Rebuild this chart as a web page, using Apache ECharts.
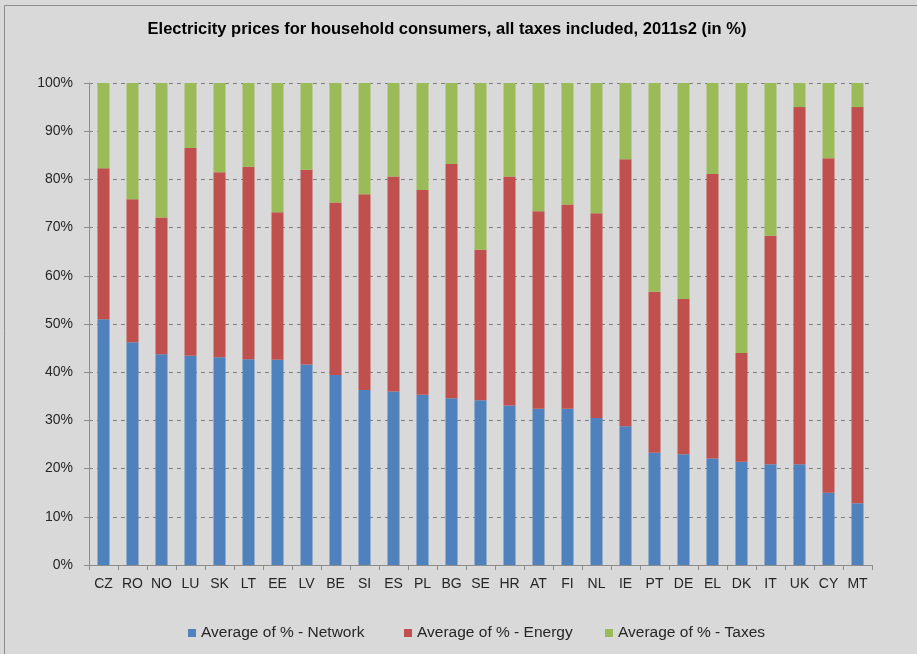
<!DOCTYPE html>
<html>
<head>
<meta charset="utf-8">
<title>Electricity prices for household consumers</title>
<script src="https://cdn.jsdelivr.net/npm/echarts@6/dist/echarts.min.js"></script>
<style>
  html, body { margin: 0; padding: 0; background: #d9d9d9; }
  #chart { width: 917px; height: 654px; }
</style>
</head>
<body>
<div id="chart"></div>
<script>
// Countries, ordered by network share
var countries = ['CZ', 'RO', 'NO', 'LU', 'SK', 'LT', 'EE', 'LV', 'BE', 'SI', 'ES', 'PL', 'BG', 'SE',
                 'HR', 'AT', 'FI', 'NL', 'IE', 'PT', 'DE', 'EL', 'DK', 'IT', 'UK', 'CY', 'MT'];

// Share of the household price (%), by component
var network = [51.0, 46.2, 43.7, 43.4, 43.1, 42.7, 42.6, 41.6, 39.4, 36.3, 36.0, 35.3, 34.6, 34.2,
               33.1, 32.4, 32.4, 30.5, 28.8, 23.3, 23.0, 22.1, 21.4, 20.9, 20.9, 15.0, 12.8];
var energy  = [31.3, 29.7, 28.4, 43.1, 38.4, 39.9, 30.6, 40.4, 35.8, 40.6, 44.6, 42.5, 48.6, 31.2,
               47.5, 41.0, 42.4, 42.5, 55.4, 33.4, 32.2, 59.0, 22.6, 47.4, 74.1, 69.4, 82.2];
var taxes   = [17.7, 24.1, 27.9, 13.5, 18.5, 17.4, 26.8, 18.0, 24.8, 23.1, 19.4, 22.2, 16.8, 34.6,
               19.4, 26.6, 25.2, 27.0, 15.8, 43.3, 44.8, 18.9, 56.0, 31.7, 5.0, 15.6, 5.0];

var seriesNames = ['Average of % - Network', 'Average of % - Energy', 'Average of % - Taxes'];
var colors = ['#4f81bd', '#c0504d', '#9bbb59'];

var textColor = '#262626';
var font = 'Liberation Sans, Arial, sans-serif';

var chart = echarts.init(document.getElementById('chart'), null, { renderer: 'canvas' });

function bar(name, data, color) {
  return {
    name: name,
    type: 'bar',
    stack: 'share',
    barWidth: 12,
    data: data,
    itemStyle: { color: color },
    emphasis: { disabled: true }
  };
}

// one legend entry per component, spaced along the bottom
var legendLeft = [183, 399, 600];
var legends = seriesNames.map(function (name, i) {
  return {
    data: [name],
    left: legendLeft[i],
    top: 620,
    itemWidth: 8,
    itemHeight: 8,
    icon: 'rect',
    textStyle: { fontFamily: font, fontSize: 15.5, color: textColor }
  };
});

chart.setOption({
  backgroundColor: '#d9d9d9',
  animation: false,
  color: colors,
  textStyle: { fontFamily: font },
  graphic: [{
    type: 'rect',
    shape: { x: 4.5, y: 5.5, width: 1000, height: 1000 },
    style: { fill: 'none', stroke: '#8c8c8c', lineWidth: 1 },
    silent: true
  }],
  title: {
    text: 'Electricity prices for household consumers, all taxes included, 2011s2 (in %)',
    left: 442,
    top: 16,
    textAlign: 'center',
    textStyle: { fontFamily: font, fontSize: 16.5, fontWeight: 'bold', color: '#000' }
  },
  legend: legends,
  grid: { left: 89, right: 45, top: 83, bottom: 89, containLabel: false },
  xAxis: {
    type: 'category',
    data: countries,
    axisLine: { lineStyle: { color: '#8c8c8c' } },
    axisTick: { show: true, length: 5, lineStyle: { color: '#8c8c8c' } },
    axisLabel: { fontFamily: font, fontSize: 14, color: textColor, margin: 12, interval: 0 }
  },
  yAxis: {
    type: 'value',
    min: 0,
    max: 100,
    interval: 10,
    axisLine: { show: true, lineStyle: { color: '#8c8c8c' } },
    axisTick: { show: true, length: 5, lineStyle: { color: '#8c8c8c' } },
    axisLabel: { fontFamily: font, fontSize: 14, color: textColor, margin: 16, formatter: '{value}%' },
    splitLine: { show: true, lineStyle: { color: '#7f7f7f', type: [4, 4] } }
  },
  series: [
    bar(seriesNames[0], network, colors[0]),
    bar(seriesNames[1], energy, colors[1]),
    bar(seriesNames[2], taxes, colors[2])
  ]
});
</script>
</body>
</html>
